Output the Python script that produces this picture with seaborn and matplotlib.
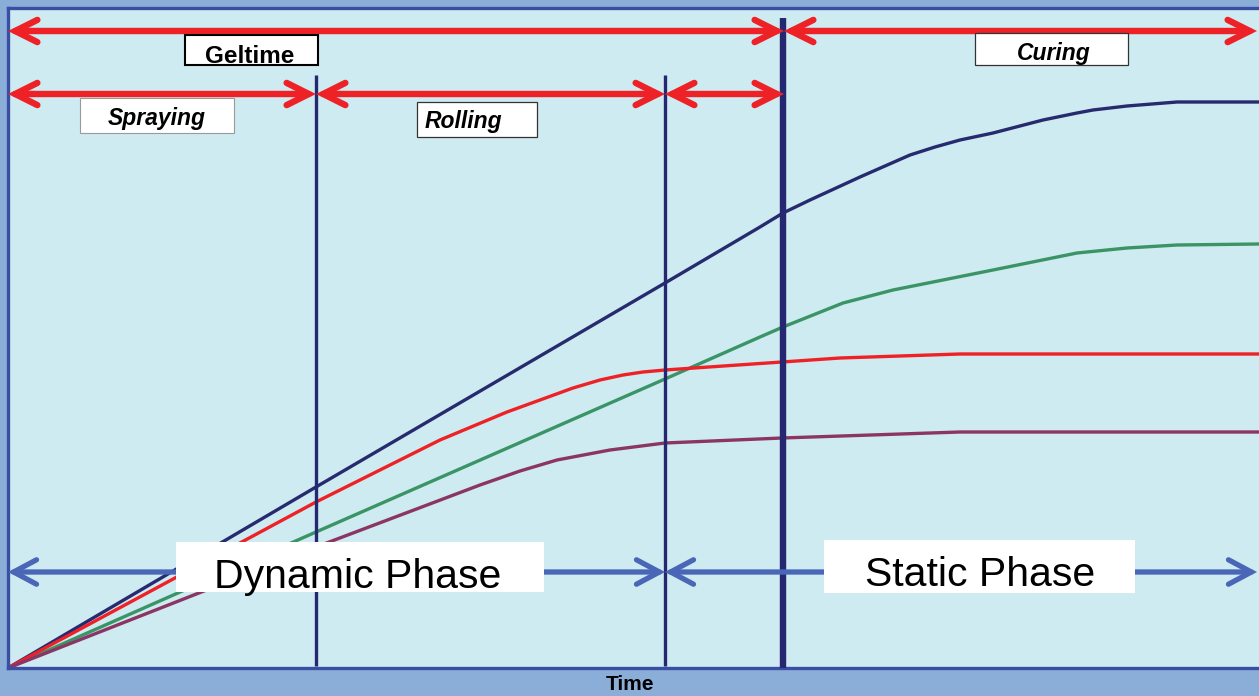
import matplotlib
matplotlib.use("Agg")
import matplotlib.pyplot as plt
import seaborn as sns
import pandas as pd
from matplotlib.patches import Rectangle

# ---- curve data: build-up of each resin system over time ----
time_navy = [0, 30.8, 65.7, 75.2, 77.5, 80.2, 85.2, 87.7, 90.2, 92.7, 95.2, 98.5, 103.5, 106.9, 108.5, 111.9, 116.9, 125.1]
value_navy = [0, 18.1, 38.5, 44.1, 45.5, 46.8, 49.1, 50.2, 51.3, 52.1, 52.8, 53.5, 54.8, 55.5, 55.8, 56.2, 56.6, 56.6]

time_green = [0, 30.8, 65.7, 75.2, 77.5, 83.5, 88.5, 98.5, 106.9, 111.9, 116.9, 125.1]
value_green = [0, 13.6, 28.9, 33.1, 34.1, 36.5, 37.8, 39.8, 41.5, 42.0, 42.3, 42.4]

time_red = [0, 30.8, 43.2, 49.9, 56.5, 59.2, 61.5, 63.5, 65.7, 77.4, 83.2, 95.2, 125.1]
value_red = [0, 16.6, 22.8, 25.6, 28.0, 28.8, 29.3, 29.6, 29.8, 30.6, 31.0, 31.4, 31.4]

time_purple = [0, 30.8, 47.2, 51.2, 54.9, 60.2, 65.7, 77.4, 95.2, 125.1]
value_purple = [0, 12.1, 18.3, 19.7, 20.8, 21.8, 22.5, 23.0, 23.6, 23.6]

series_names = ["navy", "green", "red", "purple"]
series_colors = ["#272a6f", "#3a9466", "#ee2226", "#8c3564"]

# ---- phase boundaries (time) ----
spray_end = 30.8
roll_end = 65.7
gel_end = 77.6
time_end = 124.9

span_labels = ["Geltime", "Curing", "Spraying", "Rolling"]
phase_labels = ["Dynamic Phase", "Static Phase"]
axis_label = "Time"

# ---- styling ----
sns.set_theme(style="white")
plt.rcParams["font.family"] = ["Liberation Sans", "DejaVu Sans"]

fig = plt.figure(figsize=(12.59, 6.96), dpi=100, facecolor="#8aaed8")
ax = fig.add_axes([8 / 1259, 28 / 696, 1251 / 1259, 660 / 696])
ax.set_facecolor("#cdebf0")
ax.set_xlim(0, 125.1)
ax.set_ylim(0, 66.0)
ax.set_xticks([])
ax.set_yticks([])
for side in ("left", "top", "bottom"):
    ax.spines[side].set_visible(True)
    ax.spines[side].set_color("#3a4ea3")
    ax.spines[side].set_linewidth(2.4)
ax.spines["right"].set_visible(False)

# ---- curves ----
frames = []
for name, t, v in zip(series_names,
                      [time_navy, time_green, time_red, time_purple],
                      [value_navy, value_green, value_red, value_purple]):
    frames.append(pd.DataFrame({"time": t, "value": v, "series": name}))
df = pd.concat(frames, ignore_index=True)

sns.lineplot(data=df, x="time", y="value", hue="series", hue_order=series_names,
             palette=series_colors, sort=False, estimator=None, legend=False,
             linewidth=2.4, ax=ax, zorder=2)
ax.set_xlabel("")
ax.set_ylabel("")

# ---- phase boundary lines ----
ax.vlines([spray_end, roll_end], 0.2, 59.3, colors="#252870", linewidth=2.4, zorder=3)
ax.vlines([gel_end - 0.1], 0.0, 65.0, colors="#252870", linewidth=4.6, zorder=3)


def span_arrow(x0, x1, y, color, lw, hl=1.6, hw=0.8):
    ax.annotate("", xy=(x1, y), xytext=(x0, y),
                arrowprops=dict(arrowstyle=f"<->,head_length={hl},head_width={hw}",
                                color=color, lw=lw, shrinkA=0, shrinkB=0,
                                capstyle="round", joinstyle="miter",
                                mutation_scale=10),
                annotation_clip=False, zorder=4)


red = "#ee2226"
blue = "#4a67b7"
row_top, row_mid, row_low = 63.7, 57.4, 9.6

span_arrow(0.0, gel_end, row_top, red, 4.6)
span_arrow(gel_end, time_end, row_top, red, 4.6)
span_arrow(0.0, spray_end, row_mid, red, 4.6)
span_arrow(spray_end, roll_end, row_mid, red, 4.6)
span_arrow(roll_end, gel_end, row_mid, red, 4.6)

span_arrow(0.0, roll_end, row_low, blue, 3.8, 1.65, 0.88)
span_arrow(roll_end, time_end, row_low, blue, 3.8, 1.65, 0.88)


def label_box(x0, x1, y0, y1, text, tx, ty, size, weight, style, ec, lw):
    rect = Rectangle((x0, y0), x1 - x0, y1 - y0, facecolor="white",
                     edgecolor=ec, linewidth=lw, zorder=5)
    ax.add_patch(rect)
    t = ax.text(tx, ty, text, ha="center", va="baseline", fontsize=size,
                fontweight=weight, fontstyle=style, color="black", zorder=6)
    t.set_clip_path(rect)


label_box(17.7, 31.0, 60.3, 63.3, span_labels[0], 24.2, 60.5, 17.5, "bold", "normal", "black", 1.5)
label_box(96.7, 112.0, 60.3, 63.5, span_labels[1], 104.6, 60.8, 16.5, "bold", "italic", "#333333", 0.9)
label_box(7.2, 22.6, 53.5, 57.0, span_labels[2], 14.9, 54.3, 16.5, "bold", "italic", "#9a9a9a", 0.8)
label_box(40.9, 52.9, 53.1, 56.6, span_labels[3], 45.5, 54.0, 16.5, "bold", "italic", "#333333", 0.9)

label_box(16.8, 53.6, 7.6, 12.6, phase_labels[0], 35.0, 8.0, 29.5, "normal", "normal", "none", 0)
label_box(81.6, 112.7, 7.5, 12.8, phase_labels[1], 97.2, 8.2, 29.5, "normal", "normal", "none", 0)

fig.text(630 / 1259, 1 - 685 / 696, axis_label, ha="center", va="center",
         fontsize=15, fontweight="bold", color="black")

fig.savefig("out.png", dpi=100, facecolor=fig.get_facecolor())
